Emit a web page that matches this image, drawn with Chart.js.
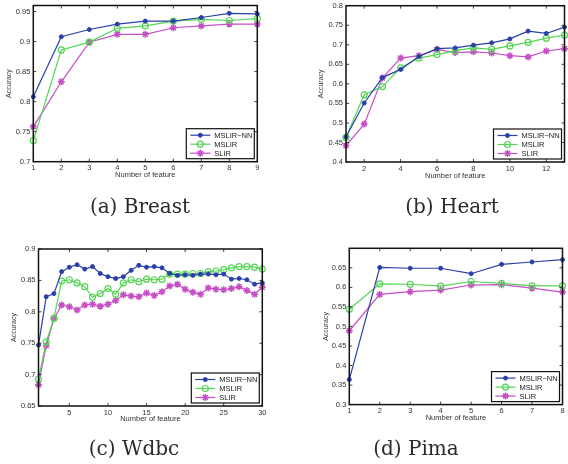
<!DOCTYPE html>
<html>
<head>
<meta charset="utf-8">
<script src="https://cdn.jsdelivr.net/npm/chart.js@4.4.1/dist/chart.umd.min.js"></script>
<style>
body { margin: 0; background: #fff; width: 568px; height: 464px; overflow: hidden; position: relative; }
canvas { position: absolute; }
.cap { position: absolute; width: 200px; text-align: center; font-family: "DejaVu Serif", serif; font-size: 20px; line-height: 24px; color: #2a2a2a; }
</style>
</head>
<body>
<canvas id="breast" width="280" height="230" style="left:0;top:0"></canvas>
<canvas id="heart" width="290" height="230" style="left:280px;top:0"></canvas>
<canvas id="wdbc" width="280" height="206" style="left:0;top:232px"></canvas>
<canvas id="pima" width="288" height="206" style="left:280px;top:232px"></canvas>
<div class="cap" style="left:40px;top:194px">(a) Breast</div>
<div class="cap" style="left:352px;top:194px">(b) Heart</div>
<div class="cap" style="left:34px;top:436px">(c) Wdbc</div>
<div class="cap" style="left:316px;top:436px">(d) Pima</div>
<script>
var seriesNames = ['MSLIR\u2212NN', 'MSLIR', 'SLIR'];

// (a) Breast
var breastX = [1, 2, 3, 4, 5, 6, 7, 8, 9];
var breastNN = [0.808, 0.908, 0.920, 0.929, 0.934, 0.934, 0.940, 0.947, 0.946];
var breastM = [0.735, 0.886, 0.899, 0.922, 0.926, 0.934, 0.937, 0.935, 0.938];
var breastS = [0.758, 0.833, 0.899, 0.912, 0.912, 0.923, 0.926, 0.929, 0.929];
var breastXTicks = [1, 2, 3, 4, 5, 6, 7, 8, 9];
var breastYTicks = [0.7, 0.75, 0.8, 0.85, 0.9, 0.95];

// (b) Heart
var heartX = [1, 2, 3, 4, 5, 6, 7, 8, 9, 10, 11, 12, 13];
var heartNN = [0.464, 0.551, 0.616, 0.637, 0.670, 0.690, 0.692, 0.699, 0.705, 0.715, 0.735, 0.729, 0.745];
var heartM = [0.463, 0.572, 0.593, 0.641, 0.666, 0.675, 0.685, 0.692, 0.688, 0.697, 0.706, 0.717, 0.725];
var heartS = [0.442, 0.497, 0.615, 0.666, 0.672, 0.688, 0.680, 0.682, 0.679, 0.672, 0.669, 0.684, 0.690];
var heartXTicks = [2, 4, 6, 8, 10, 12];
var heartYTicks = [0.4, 0.45, 0.5, 0.55, 0.6, 0.65, 0.7, 0.75, 0.8];

// (c) Wdbc
var wdbcX = [1, 2, 3, 4, 5, 6, 7, 8, 9, 10, 11, 12, 13, 14, 15, 16, 17, 18, 19, 20, 21, 22, 23, 24, 25, 26, 27, 28, 29, 30];
var wdbcNN = [0.747, 0.824, 0.829, 0.864, 0.871, 0.875, 0.868, 0.872, 0.861, 0.856, 0.853, 0.856, 0.866, 0.874, 0.871,
              0.872, 0.870, 0.861, 0.858, 0.859, 0.858, 0.860, 0.860, 0.859, 0.860, 0.852, 0.853, 0.851, 0.844, 0.846];
var wdbcM = [0.693, 0.752, 0.790, 0.849, 0.851, 0.846, 0.840, 0.823, 0.829, 0.837, 0.828, 0.846, 0.851, 0.848, 0.852,
             0.851, 0.852, 0.860, 0.860, 0.860, 0.861, 0.861, 0.864, 0.865, 0.867, 0.870, 0.872, 0.872, 0.871, 0.868];
var wdbcS = [0.684, 0.746, 0.789, 0.811, 0.808, 0.803, 0.811, 0.812, 0.809, 0.812, 0.818, 0.827, 0.825, 0.824, 0.830,
             0.826, 0.832, 0.841, 0.844, 0.836, 0.831, 0.828, 0.838, 0.836, 0.835, 0.837, 0.840, 0.834, 0.828, 0.839];
var wdbcXTicks = [5, 10, 15, 20, 25, 30];
var wdbcYTicks = [0.65, 0.7, 0.75, 0.8, 0.85, 0.9];

// (d) Pima
var pimaX = [1, 2, 3, 4, 5, 6, 7, 8];
var pimaNN = [0.364, 0.651, 0.649, 0.649, 0.635, 0.659, 0.665, 0.671];
var pimaM = [0.544, 0.609, 0.608, 0.603, 0.615, 0.610, 0.604, 0.604];
var pimaS = [0.489, 0.582, 0.589, 0.593, 0.606, 0.607, 0.598, 0.588];
var pimaXTicks = [1, 2, 3, 4, 5, 6, 7, 8];
var pimaYTicks = [0.3, 0.35, 0.4, 0.45, 0.5, 0.55, 0.6, 0.65];

var blue = '#2a40a8', green = '#55d455', magenta = '#c64ec6';
var sans = '"Liberation Sans", Arial, sans-serif';

function points(xs, ys) {
    return xs.map(function (x, i) { return { x: x, y: ys[i] }; });
}

// frame box, inward ticks and the legend inside the axes
const boxPlugin = {
    id: 'box',
    afterDatasetsDraw(chart) {
        const ctx = chart.ctx, a = chart.chartArea, sx = chart.scales.x, sy = chart.scales.y;
        ctx.save();
        ctx.strokeStyle = '#111';
        ctx.lineWidth = 0.8;
        ctx.beginPath();
        sx.ticks.forEach(function (t) {
            var p = sx.getPixelForValue(t.value);
            ctx.moveTo(p, a.bottom); ctx.lineTo(p, a.bottom - 3);
            ctx.moveTo(p, a.top); ctx.lineTo(p, a.top + 3);
        });
        sy.ticks.forEach(function (t) {
            var p = sy.getPixelForValue(t.value);
            ctx.moveTo(a.left, p); ctx.lineTo(a.left + 3, p);
            ctx.moveTo(a.right, p); ctx.lineTo(a.right - 3, p);
        });
        ctx.stroke();
        ctx.lineWidth = 1.5;
        ctx.strokeRect(a.left, a.top, a.right - a.left, a.bottom - a.top);

        var w = 68, h = 30;
        var x0 = a.right - 3 - w, y0 = a.bottom - 3 - h;
        ctx.fillStyle = '#fff';
        ctx.fillRect(x0, y0, w, h);
        ctx.lineWidth = 1.2;
        ctx.strokeStyle = '#111';
        ctx.strokeRect(x0, y0, w, h);
        chart.data.datasets.forEach(function (ds, i) {
            var cy = y0 + 6.5 + i * 9;
            ctx.strokeStyle = ds.borderColor;
            ctx.lineWidth = ds.borderWidth;
            ctx.beginPath();
            ctx.moveTo(x0 + 4, cy); ctx.lineTo(x0 + 24, cy);
            ctx.stroke();
            ctx.fillStyle = ds.pointBackgroundColor;
            ctx.lineWidth = ds.pointBorderWidth;
            Chart.helpers.drawPoint(ctx, { pointStyle: ds.pointStyle, radius: ds.pointRadius, borderWidth: ds.pointBorderWidth, rotation: 0 }, x0 + 14, cy);
            ctx.fillStyle = '#222';
            ctx.font = '7.5px ' + sans;
            ctx.textBaseline = 'middle';
            ctx.fillText(ds.label, x0 + 28, cy + 0.5);
        });
        ctx.restore();
    }
};

function makeChart(id, xs, nn, m, s, xMin, xMax, yMin, yMax, xTicks, yTicks, g) {
    return new Chart(document.getElementById(id), {
        type: 'line',
        data: {
            datasets: [{
                label: seriesNames[0], data: points(xs, nn),
                borderColor: blue, backgroundColor: blue, borderWidth: 1.2,
                pointStyle: 'circle', pointRadius: 2, pointBackgroundColor: blue, pointBorderColor: blue, pointBorderWidth: 1
            }, {
                label: seriesNames[1], data: points(xs, m),
                borderColor: green, backgroundColor: green, borderWidth: 1.2,
                pointStyle: 'circle', pointRadius: 3, pointBackgroundColor: 'rgba(255,255,255,0)', pointBorderColor: green, pointBorderWidth: 1.2
            }, {
                label: seriesNames[2], data: points(xs, s),
                borderColor: magenta, backgroundColor: magenta, borderWidth: 1.2,
                pointStyle: 'star', pointRadius: 3.5, pointBackgroundColor: magenta, pointBorderColor: magenta, pointBorderWidth: 1.5
            }]
        },
        options: {
            responsive: false,
            animation: false,
            events: [],
            layout: { padding: { left: 0, right: g.pr, top: g.pt, bottom: g.pb } },
            elements: { line: { tension: 0 } },
            datasets: { line: { clip: false } },
            plugins: { legend: { display: false }, tooltip: { enabled: false } },
            scales: {
                x: {
                    type: 'linear', min: xMin, max: xMax,
                    afterBuildTicks: function (sc) { sc.ticks = xTicks.map(function (v) { return { value: v }; }); },
                    afterFit: function (sc) { sc.height = g.hx; sc.paddingLeft = 0; sc.paddingRight = 0; },
                    grid: { display: false, drawTicks: false },
                    border: { display: false },
                    ticks: { color: '#333', font: { family: sans, size: 7.5 }, padding: 2, maxRotation: 0, autoSkip: false,
                             callback: function (v) { return String(v); } },
                    title: { display: true, text: 'Number of feature', color: '#333', font: { family: sans, size: 7.5 }, padding: 0 }
                },
                y: {
                    min: yMin, max: yMax,
                    afterBuildTicks: function (sc) { sc.ticks = yTicks.map(function (v) { return { value: v }; }); },
                    afterFit: function (sc) { sc.width = g.wy; sc.paddingTop = 0; sc.paddingBottom = 0; },
                    grid: { display: false, drawTicks: false },
                    border: { display: false },
                    ticks: { color: '#333', font: { family: sans, size: 7.5 }, padding: 3, autoSkip: false,
                             callback: function (v) { return String(+v.toFixed(2)); } },
                    title: { display: true, text: 'Accuracy', color: '#333', font: { family: sans, size: 7 }, padding: { top: g.yt, bottom: 0 } }
                }
            }
        },
        plugins: [boxPlugin]
    });
}

makeChart('breast', breastX, breastNN, breastM, breastS, 1, 9, 0.7, 0.96, breastXTicks, breastYTicks,
    { wy: 33.3, pr: 22.7, pt: 4.7, hx: 18, pb: 50.3, yt: 5 });
makeChart('heart', heartX, heartNN, heartM, heartS, 1, 13, 0.4, 0.8, heartXTicks, heartYTicks,
    { wy: 66, pr: -3, pt: 5.7, hx: 18.5, pb: 49.5, yt: 37 });
makeChart('wdbc', wdbcX, wdbcNN, wdbcM, wdbcS, 1, 30, 0.65, 0.9, wdbcXTicks, wdbcYTicks,
    { wy: 38.5, pr: 17.7, pt: 17, hx: 17, pb: 15, yt: 10 });
makeChart('pima', pimaX, pimaNN, pimaM, pimaS, 1, 8, 0.3, 0.7, pimaXTicks, pimaYTicks,
    { wy: 69.3, pr: 3.7, pt: 16.3, hx: 18, pb: 15.4, yt: 42 });
</script>
</body>
</html>
